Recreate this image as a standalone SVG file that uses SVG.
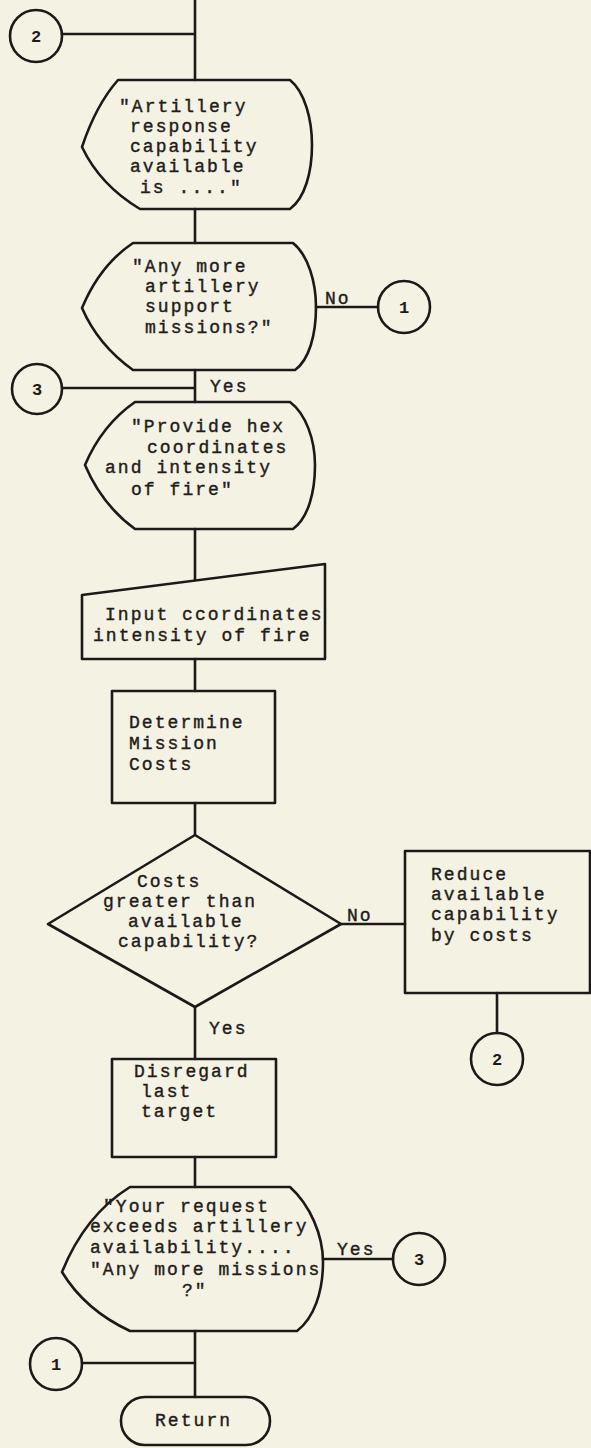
<svg xmlns="http://www.w3.org/2000/svg" width="591" height="1448" viewBox="0 0 591 1448">
<style>
.bg{fill:#f4f2e3}
.s{fill:none;stroke:#1c1a18;stroke-width:2.6;stroke-linejoin:round;stroke-linecap:round}
.t{font-family:"Liberation Mono","Courier New",monospace;font-size:18px;letter-spacing:2.05px;fill:#1f1d1b;stroke:#1f1d1b;stroke-width:0.4}
.c{font-family:"Liberation Mono","Courier New",monospace;font-size:17px;font-weight:bold;fill:#1f1d1b;text-anchor:middle}
</style>
<rect class="bg" x="0" y="0" width="591" height="1448"/>
<g id="connectors">
<path class="s" d="M195,0 V80 M62,34 H195"/>
<path class="s" d="M195,209 V243"/>
<path class="s" d="M316,307 H378"/>
<path class="s" d="M195,370 V402 M63,388 H195"/>
<path class="s" d="M195,529 V580"/>
<path class="s" d="M195,659 V691"/>
<path class="s" d="M195,803 V835"/>
<path class="s" d="M341,924 H405"/>
<path class="s" d="M497,993 V1033"/>
<path class="s" d="M195,1007 V1059"/>
<path class="s" d="M195,1157 V1187"/>
<path class="s" d="M323,1259 H393"/>
<path class="s" d="M195,1331 V1397 M82,1363 H195"/>
</g>
<g id="c2top"><circle class="s" cx="36" cy="36" r="26"/><text class="c" x="36" y="42">2</text></g>
<g id="display1">
<path class="s" d="M118,80 H290 C305,92 312,120 312,145 C312,172 305,198 290,209 H140 Q100,185 82,147 Q96,105 118,80 Z"/>
<text class="t" x="119" y="112">"Artillery</text>
<text class="t" x="130" y="132">response</text>
<text class="t" x="130" y="152">capability</text>
<text class="t" x="130" y="172">available</text>
<text class="t" x="140" y="193">is ...."</text>
</g>
<g id="display2">
<path class="s" d="M133,243 H293 C308,255 316,282 316,307 C316,335 309,360 295,370 H133 Q98,345 82,308 Q100,265 133,243 Z"/>
<text class="t" x="132" y="272">"Any more</text>
<text class="t" x="145" y="292">artillery</text>
<text class="t" x="145" y="312">support</text>
<text class="t" x="145" y="333">missions?"</text>
</g>
<text class="t" x="325" y="304">No</text>
<g id="c1right"><circle class="s" cx="404" cy="307" r="26"/><text class="c" x="404" y="313">1</text></g>
<g id="c3left"><circle class="s" cx="37" cy="389" r="25"/><text class="c" x="37" y="395">3</text></g>
<text class="t" x="210" y="392">Yes</text>
<g id="display3">
<path class="s" d="M135,402 H290 C306,414 315,440 315,465 C315,493 308,518 293,529 H135 Q102,505 85,465 Q102,425 135,402 Z"/>
<text class="t" x="131" y="432">"Provide hex</text>
<text class="t" x="147" y="453">coordinates</text>
<text class="t" x="105" y="473">and intensity</text>
<text class="t" x="131" y="495">of fire"</text>
</g>
<g id="input">
<path class="s" d="M82,595 L325,564 V659 H82 Z"/>
<text class="t" x="105" y="620">Input ccordinates</text>
<text class="t" x="93" y="641">intensity of fire</text>
</g>
<g id="determine">
<rect class="s" x="112" y="691" width="163" height="112"/>
<text class="t" x="129" y="728">Determine</text>
<text class="t" x="129" y="749">Mission</text>
<text class="t" x="129" y="770">Costs</text>
</g>
<g id="decision">
<path class="s" d="M195,835 L341,924 L195,1007 L48,924 Z"/>
<text class="t" x="137" y="887">Costs</text>
<text class="t" x="103" y="907">greater than</text>
<text class="t" x="128" y="927">available</text>
<text class="t" x="118" y="947">capability?</text>
</g>
<text class="t" x="347" y="921">No</text>
<g id="reduce">
<rect class="s" x="405" y="851" width="185" height="142"/>
<text class="t" x="431" y="880">Reduce</text>
<text class="t" x="431" y="900">available</text>
<text class="t" x="431" y="920">capability</text>
<text class="t" x="431" y="941">by costs</text>
</g>
<g id="c2right"><circle class="s" cx="497" cy="1059" r="26"/><text class="c" x="497" y="1065">2</text></g>
<text class="t" x="209" y="1034">Yes</text>
<g id="disregard">
<rect class="s" x="112" y="1059" width="164" height="98"/>
<text class="t" x="134" y="1077">Disregard</text>
<text class="t" x="141" y="1097">last</text>
<text class="t" x="141" y="1117">target</text>
</g>
<g id="display4">
<path class="s" d="M130,1187 H290 C310,1205 323,1235 323,1262 C323,1292 314,1318 297,1331 H130 Q85,1310 62,1272 Q85,1215 130,1187 Z"/>
<text class="t" x="103" y="1212">"Your request</text>
<text class="t" x="90" y="1232">exceeds artillery</text>
<text class="t" x="90" y="1253">availability....</text>
<text class="t" x="90" y="1275">"Any more missions</text>
<text class="t" x="182" y="1296">?"</text>
</g>
<text class="t" x="337" y="1255">Yes</text>
<g id="c3right"><circle class="s" cx="419" cy="1259" r="26"/><text class="c" x="419" y="1265">3</text></g>
<g id="c1bottom"><circle class="s" cx="56" cy="1364" r="26"/><text class="c" x="56" y="1370">1</text></g>
<g id="return">
<rect class="s" x="121" y="1397" width="149" height="48" rx="24"/>
<text class="t" x="155" y="1426">Return</text>
</g>
</svg>
